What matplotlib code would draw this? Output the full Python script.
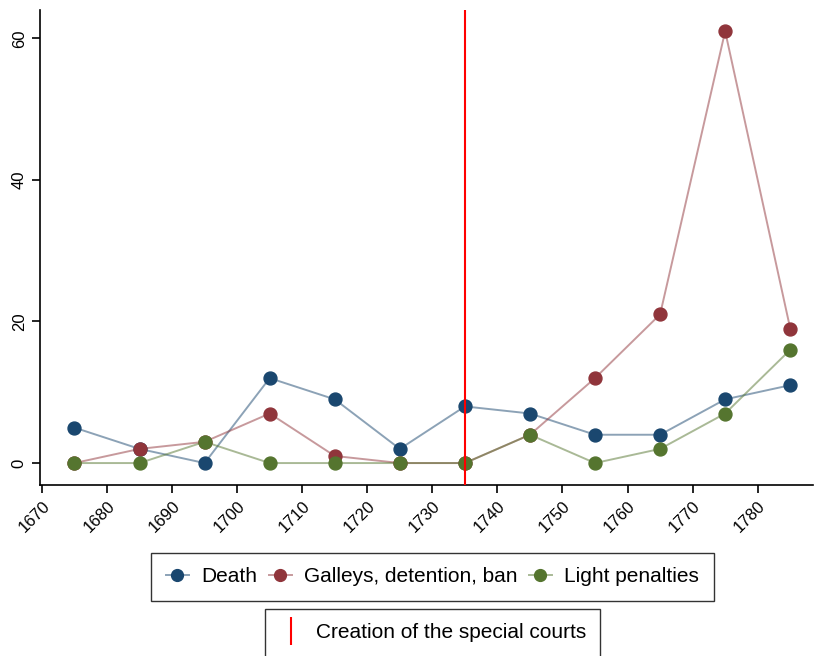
import matplotlib
matplotlib.use("Agg")
import matplotlib.pyplot as plt
from matplotlib.lines import Line2D
from matplotlib.colors import to_rgba

plt.rcParams['font.family'] = ['Liberation Sans', 'DejaVu Sans']

years = [1675, 1685, 1695, 1705, 1715, 1725, 1735, 1745, 1755, 1765, 1775, 1785]
death = [5, 2, 0, 12, 9, 2, 8, 7, 4, 4, 9, 11]
galleys = [0, 2, 3, 7, 1, 0, 0, 4, 12, 21, 61, 19]
light = [0, 0, 3, 0, 0, 0, 0, 4, 0, 2, 7, 16]
series_names = ["Death", "Galleys, detention, ban", "Light penalties"]
colors = ["#1a476f", "#90353b", "#55752f"]
xticks = list(range(1670, 1790, 10))
yticks = [0, 20, 40, 60]
court_year = 1735
court_label = "Creation of the special courts"

fig = plt.figure(figsize=(8.14, 6.56), dpi=100)
ax = fig.add_axes([40/814, 1-485/656, 773/814, 475/656])

handles = []
for vals, c, name in zip([death, galleys, light], colors, series_names):
    ax.plot(years, vals, color=to_rgba(c, 0.5), lw=1.4, zorder=2)
    ax.plot(years, vals, ls='none', marker='o', ms=9.3, color=c, zorder=3)
    handles.append(Line2D([], [], color=to_rgba(c, 0.5), marker='o', ms=8.5, lw=1.4,
                          markerfacecolor=c, markeredgecolor=c))

ax.axvline(court_year, color='#ff0000', lw=1.5, zorder=4)

ax.set_xlim(1669.7, 1788.5)
ax.set_ylim(-3.1, 64)
ax.set_xticks(xticks)
ax.set_xticklabels([str(t) for t in xticks], rotation=45, ha='right',
                   rotation_mode='anchor', fontsize=12)
ax.set_yticks(yticks)
ax.set_yticklabels([str(t) for t in yticks], rotation=90, va='center', fontsize=12)
for s in ['top', 'right']:
    ax.spines[s].set_visible(False)
for s in ['left', 'bottom']:
    ax.spines[s].set_linewidth(1.2)
ax.tick_params(length=6, width=1.2)

leg1 = fig.legend(handles=handles, labels=series_names, ncol=3,
                  loc='center', bbox_to_anchor=(432.5/814, 1-577/656),
                  fontsize=15, frameon=True, fancybox=False, edgecolor='black',
                  handlelength=1.1, handletextpad=0.6, columnspacing=0.55,
                  borderpad=0.7, borderaxespad=0)
leg1.get_frame().set_linewidth(1.0)

leg2 = fig.legend(handles=[Line2D([], [], color='#ff0000', ls='none', marker='|',
                                  ms=20, mew=1.5)],
                  labels=[court_label], loc='center',
                  bbox_to_anchor=(432.5/814, 1-633/656),
                  fontsize=15, frameon=True, fancybox=False, edgecolor='black',
                  handlelength=1.15, handletextpad=0.6, borderpad=0.7,
                  borderaxespad=0)
leg2.get_frame().set_linewidth(1.0)

fig.savefig("out.png", dpi=100)
